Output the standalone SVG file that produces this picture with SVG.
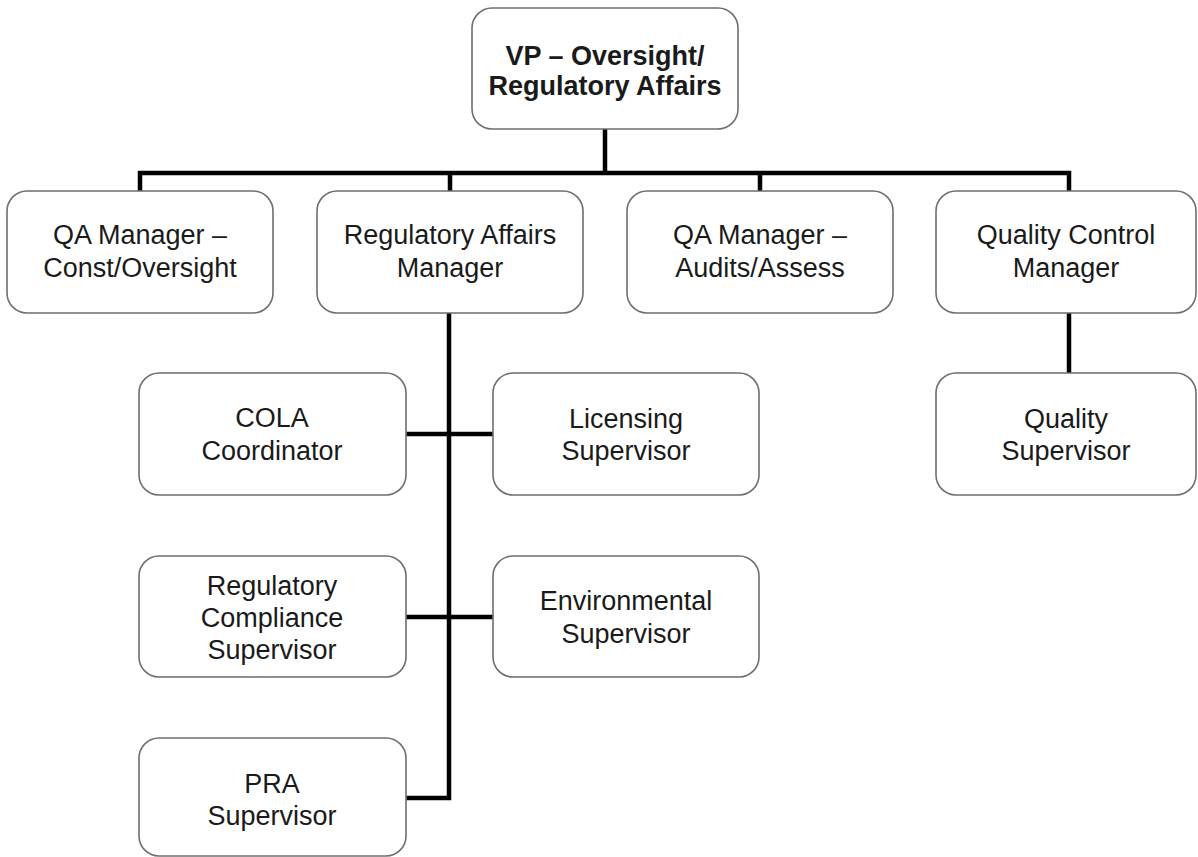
<svg xmlns="http://www.w3.org/2000/svg" width="1198" height="857" viewBox="0 0 1198 857">
<style>
.box{fill:#ffffff;stroke:#6e6e6e;stroke-width:1.6}
.t{font-family:"Liberation Sans",Arial,sans-serif;font-size:27px;fill:#1a1a1a;text-anchor:middle}
.b{font-weight:bold}
.c{stroke:#000;stroke-width:4.5;fill:none;stroke-linecap:square;stroke-linejoin:miter}
</style>
<rect width="1198" height="857" fill="#ffffff"/>
<g id="connectors">
<path class="c" d="M605 129 V173 M140 173 H1069 M140 173 V190 M450 173 V190 M760 173 V190 M1069 173 V190"/>
<path class="c" d="M449 313 V798 H406 M406 434 H493 M406 617 H493"/>
<path class="c" d="M1069 313 V372"/>
</g>
<g id="vp">
<rect class="box" x="472" y="8" width="266" height="121" rx="20"/>
<text class="t b" x="605" y="65">VP – Oversight/</text>
<text class="t b" x="605" y="95">Regulatory Affairs</text>
</g>
<g id="qa-const">
<rect class="box" x="7" y="191" width="266" height="122" rx="20"/>
<text class="t" x="140" y="244">QA Manager –</text>
<text class="t" x="140" y="277">Const/Oversight</text>
</g>
<g id="ra-manager">
<rect class="box" x="317" y="191" width="266" height="122" rx="20"/>
<text class="t" x="450" y="244">Regulatory Affairs</text>
<text class="t" x="450" y="277">Manager</text>
</g>
<g id="qa-audits">
<rect class="box" x="627" y="191" width="266" height="122" rx="20"/>
<text class="t" x="760" y="244">QA Manager –</text>
<text class="t" x="760" y="277">Audits/Assess</text>
</g>
<g id="qc-manager">
<rect class="box" x="936" y="191" width="260" height="122" rx="20"/>
<text class="t" x="1066" y="244">Quality Control</text>
<text class="t" x="1066" y="277">Manager</text>
</g>
<g id="quality-supervisor">
<rect class="box" x="936" y="373" width="260" height="122" rx="20"/>
<text class="t" x="1066" y="428">Quality</text>
<text class="t" x="1066" y="460">Supervisor</text>
</g>
<g id="cola">
<rect class="box" x="139" y="373" width="267" height="122" rx="20"/>
<text class="t" x="272" y="427">COLA</text>
<text class="t" x="272" y="460">Coordinator</text>
</g>
<g id="licensing">
<rect class="box" x="493" y="373" width="266" height="122" rx="20"/>
<text class="t" x="626" y="428">Licensing</text>
<text class="t" x="626" y="460">Supervisor</text>
</g>
<g id="reg-compliance">
<rect class="box" x="139" y="556" width="267" height="121" rx="20"/>
<text class="t" x="272" y="595">Regulatory</text>
<text class="t" x="272" y="627">Compliance</text>
<text class="t" x="272" y="659">Supervisor</text>
</g>
<g id="environmental">
<rect class="box" x="493" y="556" width="266" height="121" rx="20"/>
<text class="t" x="626" y="610">Environmental</text>
<text class="t" x="626" y="643">Supervisor</text>
</g>
<g id="pra">
<rect class="box" x="139" y="738" width="267" height="118" rx="20"/>
<text class="t" x="272" y="793">PRA</text>
<text class="t" x="272" y="825">Supervisor</text>
</g>
</svg>
